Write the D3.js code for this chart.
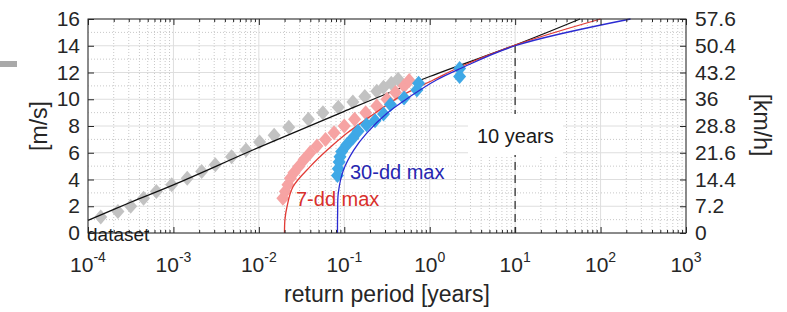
<!DOCTYPE html>
<html>
<head>
<meta charset="utf-8">
<script src="https://cdn.jsdelivr.net/npm/d3@7"></script>
<style>
  body { margin: 0; background: #fff; }
  text { font-family: "Liberation Sans", Arial, sans-serif; fill: #262626; }
</style>
</head>
<body>
<div id="chart"></div>
<script>
var w = 787;
var h = 312;

// values: return period [years] / wind speed [m/s]
var datasetPeriods = [1.41e-4, 2.24e-4, 3.16e-4, 4.47e-4, 6.31e-4, 9.55e-4, 1.45e-3, 2.14e-3, 3.09e-3, 4.79e-3, 7.08e-3, 1.02e-2, 1.51e-2, 2.24e-2, 3.80e-2, 5.62e-2, 8.51e-2, 0.126, 0.174, 0.240, 0.288, 0.355, 0.427];
var datasetSpeeds  = [1.2, 1.6, 2.0, 2.6, 3.1, 3.6, 4.1, 4.6, 5.1, 5.7, 6.2, 6.8, 7.3, 7.9, 8.5, 9.0, 9.4, 9.8, 10.2, 10.6, 10.9, 11.2, 11.5];

var dd7Periods = [0.0191, 0.0204, 0.0219, 0.0234, 0.0257, 0.0295, 0.0339, 0.0398, 0.0479, 0.0603, 0.0759, 0.100, 0.132, 0.178, 0.240, 0.316, 0.398, 0.501, 0.575];
var dd7Speeds  = [2.6, 3.1, 3.6, 4.1, 4.5, 5.0, 5.5, 6.0, 6.5, 7.0, 7.5, 8.0, 8.5, 9.0, 9.5, 10.0, 10.5, 11.0, 11.4];

var dd30Periods = [0.0832, 0.0851, 0.0871, 0.0891, 0.0933, 0.107, 0.126, 0.145, 0.182, 0.229, 0.288, 0.347, 0.501, 0.708, 0.741, 2.24, 2.24];
var dd30Speeds  = [4.3, 4.8, 5.3, 5.7, 6.1, 6.6, 7.1, 7.6, 8.1, 8.4, 8.9, 9.6, 10.1, 10.7, 11.2, 11.7, 12.3];

// fitted curves
var fitAllPeriods = [1e-4, 3.16e-4, 1e-3, 0.01, 0.1, 1, 10, 57.5];
var fitAllSpeeds  = [0.95, 2.3, 3.6, 6.4, 9.1, 11.7, 14.05, 16];

var fit7Periods = [0.01995, 0.0202, 0.0214, 0.0251, 0.0398, 0.0631, 0.107, 0.200, 0.447, 1.10, 2.29, 10, 100];
var fit7Speeds  = [0, 1.0, 2.0, 3.46, 4.96, 6.2, 7.45, 8.7, 10.2, 11.44, 12.43, 14.05, 16];

var fit30Periods = [0.0832, 0.0836, 0.0851, 0.0977, 0.129, 0.182, 0.316, 0.589, 1.20, 2.29, 10, 224];
var fit30Speeds  = [0, 1.5, 3.0, 4.7, 6.2, 7.45, 8.95, 10.2, 11.44, 12.3, 14.0, 16];

var decadeTicks = [1e-4, 1e-3, 1e-2, 1e-1, 1e0, 1e1, 1e2, 1e3];
var decadeExponents = ['-4', '-3', '-2', '-1', '0', '1', '2', '3'];
var msTicks = [0, 2, 4, 6, 8, 10, 12, 14, 16];
var kmhTicks = [0, 7.2, 14.4, 21.6, 28.8, 36, 43.2, 50.4, 57.6];
var kmhLabels = ['0', '7.2', '14.4', '21.6', '28.8', '36', '43.2', '50.4', '57.6'];
var markPeriod = 10;

function zip(xs, ys) {
  return xs.map(function(x, i) { return { x: x, y: ys[i] }; });
}

// scales
var x = d3.scaleLog().domain([1e-4, 1e3]).range([88, 686]);
var y = d3.scaleLinear().domain([0, 16]).range([233, 19]);
var yKmh = d3.scaleLinear().domain([0, 57.6]).range([233, 19]);

var minorX = [];
for (var e = -4; e < 3; e++) {
  for (var k = 2; k <= 9; k++) minorX.push(k * Math.pow(10, e));
}
var minorY = d3.range(1, 16, 1);

var svg = d3.select('#chart')
  .append('svg')
    .attr('width', w)
    .attr('height', h);

// stray grey mark at the left edge of the original
svg.append('rect')
  .attr('x', 0).attr('y', 61).attr('width', 17).attr('height', 6)
  .attr('fill', '#a9a9a9');

var grid = svg.append('g').attr('class', 'grid');

// minor grid (dotted)
grid.selectAll('.minor-x')
  .data(minorX)
  .enter().append('line')
    .attr('x1', d => x(d)).attr('x2', d => x(d))
    .attr('y1', y(0)).attr('y2', y(16))
    .attr('stroke', '#c8c8c8').attr('stroke-width', 1).attr('stroke-dasharray', '1,2');

grid.selectAll('.minor-y')
  .data(minorY.filter(d => d % 2 != 0))
  .enter().append('line')
    .attr('x1', x(1e-4)).attr('x2', x(1e3))
    .attr('y1', d => y(d)).attr('y2', d => y(d))
    .attr('stroke', '#c8c8c8').attr('stroke-width', 1).attr('stroke-dasharray', '1,2');

// major grid
grid.selectAll('.major-x')
  .data(decadeTicks)
  .enter().append('line')
    .attr('x1', d => x(d)).attr('x2', d => x(d))
    .attr('y1', y(0)).attr('y2', y(16))
    .attr('stroke', '#dedede').attr('stroke-width', 1);

grid.selectAll('.major-y')
  .data(msTicks)
  .enter().append('line')
    .attr('x1', x(1e-4)).attr('x2', x(1e3))
    .attr('y1', d => y(d)).attr('y2', d => y(d))
    .attr('stroke', '#dedede').attr('stroke-width', 1);

// 10 year marker
svg.append('line')
  .attr('x1', x(markPeriod)).attr('x2', x(markPeriod))
  .attr('y1', y(14.05)).attr('y2', y(0))
  .attr('stroke', '#4d4d4d').attr('stroke-width', 1.5).attr('stroke-dasharray', '8,5');

svg.append('rect')
  .attr('x', 468).attr('y', 114).attr('width', 95).attr('height', 41)
  .attr('fill', '#fff');

svg.append('text')
  .attr('x', 477).attr('y', 143)
  .style('font-size', '20px')
  .style('fill', '#1a1a1a')
  .text('10 years');

// markers + fitted curves
var diamond = function(d) {
  var cx = x(d.x), cy = y(d.y);
  return 'M' + cx + ',' + (cy - 7.5) + 'L' + (cx + 6.5) + ',' + cy + 'L' + cx + ',' + (cy + 7.5) + 'L' + (cx - 6.5) + ',' + cy + 'Z';
};

var line = d3.line()
  .x(d => x(d.x))
  .y(d => y(d.y))
  .curve(d3.curveCatmullRom.alpha(0.5));

var plot = svg.append('g').attr('class', 'plot');

plot.selectAll('.dataset')
  .data(zip(datasetPeriods, datasetSpeeds))
  .enter().append('path')
    .attr('d', diamond)
    .attr('fill', '#c2c2c2');

plot.append('path')
  .datum(zip(fitAllPeriods, fitAllSpeeds))
  .attr('d', line)
  .attr('fill', 'none').attr('stroke', '#111').attr('stroke-width', 1.3);

plot.selectAll('.dd7')
  .data(zip(dd7Periods, dd7Speeds))
  .enter().append('path')
    .attr('d', diamond)
    .attr('fill', '#f6a3a3');

plot.append('path')
  .datum(zip(fit7Periods, fit7Speeds))
  .attr('d', line)
  .attr('fill', 'none').attr('stroke', '#e23b36').attr('stroke-width', 1.3);

plot.selectAll('.dd30')
  .data(zip(dd30Periods, dd30Speeds))
  .enter().append('path')
    .attr('d', diamond)
    .attr('fill', '#3fa8e6');

plot.append('path')
  .datum(zip(fit30Periods, fit30Speeds))
  .attr('d', line)
  .attr('fill', 'none').attr('stroke', '#2a2ad2').attr('stroke-width', 1.3);

// labels on the curves
svg.append('text')
  .attr('x', 296).attr('y', 206)
  .style('font-size', '20px').style('fill', '#d8302c')
  .text('7-dd max');

svg.append('text')
  .attr('x', 350).attr('y', 179)
  .style('font-size', '20px').style('fill', '#2626b0')
  .text('30-dd max');

// axes
var styleAxis = function(g) {
  g.attr('font-family', null).attr('font-size', null);
  g.selectAll('.tick line').attr('stroke', '#262626');
  g.selectAll('.domain').remove();
  g.selectAll('text').style('font-size', '21px').style('fill', '#262626');
};

svg.append('g')
  .attr('transform', 'translate(' + x(1e-4) + ',0)')
  .call(d3.axisLeft(y).tickValues(msTicks).tickSizeInner(-6).tickSizeOuter(0).tickPadding(8))
  .call(styleAxis);

svg.append('g')
  .attr('transform', 'translate(' + x(1e3) + ',0)')
  .call(d3.axisRight(yKmh).tickValues(kmhTicks).tickFormat((d, i) => kmhLabels[i]).tickSizeInner(-6).tickSizeOuter(0).tickPadding(9))
  .call(styleAxis);

svg.append('g')
  .attr('transform', 'translate(0,' + y(0) + ')')
  .call(d3.axisBottom(x).tickValues(decadeTicks).tickFormat('').tickSizeInner(-6).tickSizeOuter(0))
  .call(styleAxis);

svg.append('g')
  .attr('transform', 'translate(0,' + y(0) + ')')
  .call(d3.axisBottom(x).tickValues(minorX).tickFormat('').tickSizeInner(-3).tickSizeOuter(0))
  .call(styleAxis);

svg.append('g')
  .attr('transform', 'translate(0,' + y(16) + ')')
  .call(d3.axisTop(x).tickValues(decadeTicks).tickFormat('').tickSizeInner(-6).tickSizeOuter(0))
  .call(styleAxis);

svg.append('g')
  .attr('transform', 'translate(0,' + y(16) + ')')
  .call(d3.axisTop(x).tickValues(minorX).tickFormat('').tickSizeInner(-3).tickSizeOuter(0))
  .call(styleAxis);

// decade labels 10^n
var xLabels = svg.selectAll('.xlabel')
  .data(decadeTicks)
  .enter().append('text')
    .attr('x', d => x(d))
    .attr('y', 272)
    .attr('text-anchor', 'middle')
    .style('font-size', '21px');
xLabels.append('tspan').text('10');
xLabels.append('tspan')
  .attr('dy', -10)
  .style('font-size', '14px')
  .text((d, i) => decadeExponents[i]);

// box
svg.append('rect')
  .attr('x', x(1e-4)).attr('y', y(16))
  .attr('width', x(1e3) - x(1e-4)).attr('height', y(0) - y(16))
  .attr('fill', 'none').attr('stroke', '#262626').attr('stroke-width', 1);

svg.append('text')
  .attr('x', 87).attr('y', 241)
  .style('font-size', '19px').style('fill', '#1a1a1a')
  .text('dataset');

// axis titles
svg.append('text')
  .attr('x', (x(1e-4) + x(1e3)) / 2).attr('y', 302)
  .attr('text-anchor', 'middle')
  .style('font-size', '23px')
  .text('return period [years]');

svg.append('text')
  .attr('transform', 'translate(47,126) rotate(-90)')
  .attr('text-anchor', 'middle')
  .style('font-size', '23px')
  .text('[m/s]');

svg.append('text')
  .attr('transform', 'translate(754,125) rotate(90)')
  .attr('text-anchor', 'middle')
  .style('font-size', '23px')
  .text('[km/h]');
</script>
</body>
</html>
